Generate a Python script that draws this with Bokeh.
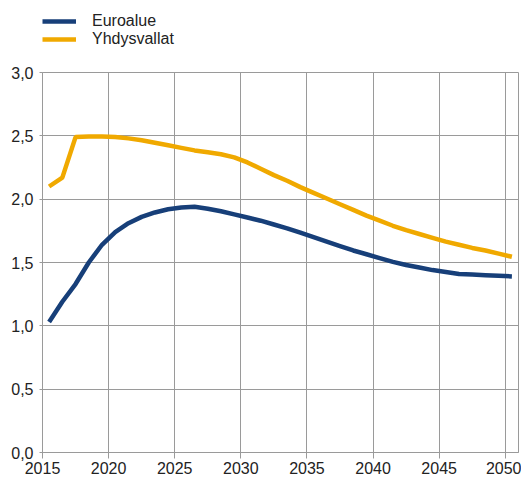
from bokeh.plotting import figure
from bokeh.layouts import column
from bokeh.models import Legend, LegendItem, CustomJSTickFormatter, FixedTicker, Range1d
from bokeh.embed import file_html
from bokeh.resources import INLINE

years = [2015.5 + i for i in range(36)]
euroalue = [1.03, 1.19, 1.33, 1.50, 1.64, 1.74, 1.81, 1.86, 1.895, 1.92, 1.935, 1.94,
            1.925, 1.905, 1.88, 1.855, 1.83, 1.80, 1.77, 1.735, 1.70, 1.665, 1.63, 1.595,
            1.565, 1.535, 1.505, 1.48, 1.46, 1.44, 1.425, 1.41, 1.405, 1.40, 1.395, 1.39]
yhdysvallat = [2.10, 2.17, 2.49, 2.495, 2.495, 2.49, 2.48, 2.465, 2.445, 2.425, 2.405, 2.385,
               2.37, 2.355, 2.33, 2.29, 2.24, 2.19, 2.145, 2.095, 2.05, 2.005, 1.96, 1.915,
               1.87, 1.83, 1.79, 1.755, 1.725, 1.695, 1.665, 1.64, 1.615, 1.595, 1.57, 1.545]
x_ticks = [2015, 2020, 2025, 2030, 2035, 2040, 2045, 2050]
y_ticks = [0.0, 0.5, 1.0, 1.5, 2.0, 2.5, 3.0]
series_names = ["Euroalue", "Yhdysvallat"]

FONT = "Liberation Sans"
FS = "16px"
GRID = "#9a9a9a"
TXT = "#222222"
BLUE = "#173f79"
YELLOW = "#f0a900"

p = figure(width=521, height=416, output_backend="svg", toolbar_location=None,
           x_range=Range1d(2015, 2051), y_range=Range1d(0, 3),
           min_border_left=42, min_border_right=3, min_border_top=8, min_border_bottom=28)
p.outline_line_color = GRID
p.outline_line_width = 1

l1 = p.line(years, euroalue, line_color=BLUE, line_width=4.5)
l2 = p.line(years, yhdysvallat, line_color=YELLOW, line_width=4.5)

for ax in (p.xaxis[0], p.yaxis[0]):
    ax.axis_line_color = GRID
    ax.major_tick_line_color = GRID
    ax.minor_tick_line_color = None
    ax.major_tick_in = 0
    ax.major_tick_out = 6
    ax.major_label_text_font = FONT
    ax.major_label_text_font_size = FS
    ax.major_label_text_color = TXT
    ax.major_label_standoff = 3

p.yaxis[0].major_tick_out = 3
p.yaxis[0].major_label_standoff = 6
p.xaxis.ticker = FixedTicker(ticks=x_ticks)
p.yaxis.ticker = FixedTicker(ticks=y_ticks)
p.yaxis.formatter = CustomJSTickFormatter(code="return tick.toFixed(1).replace('.', ',');")
p.xgrid.grid_line_color = GRID
p.ygrid.grid_line_color = GRID

# legend strip above the chart
lg = figure(width=521, height=64, output_backend="svg", toolbar_location=None,
            x_range=Range1d(2015, 2051), y_range=Range1d(10, 11),
            min_border_left=42, min_border_right=3, min_border_top=0, min_border_bottom=0)
lg.axis.visible = False
lg.grid.visible = False
lg.outline_line_color = None
g1 = lg.line(years, euroalue, line_color=BLUE, line_width=4.5)
g2 = lg.line(years, yhdysvallat, line_color=YELLOW, line_width=4.5)

def make_legend(name, r, y):
    return Legend(items=[LegendItem(label=name, renderers=[r])],
                  location=(0, y), orientation="vertical",
                  background_fill_alpha=0, border_line_color=None,
                  label_text_font=FONT, label_text_font_size=FS, label_text_color=TXT,
                  glyph_width=34, glyph_height=14, label_height=14, spacing=0,
                  padding=0, margin=0, label_standoff=16)

lg.add_layout(make_legend(series_names[0], g1, 34), "center")
lg.add_layout(make_legend(series_names[1], g2, 16), "center")

layout = column(lg, p, spacing=0)
open("out.html", "w").write(file_html(layout, INLINE))
